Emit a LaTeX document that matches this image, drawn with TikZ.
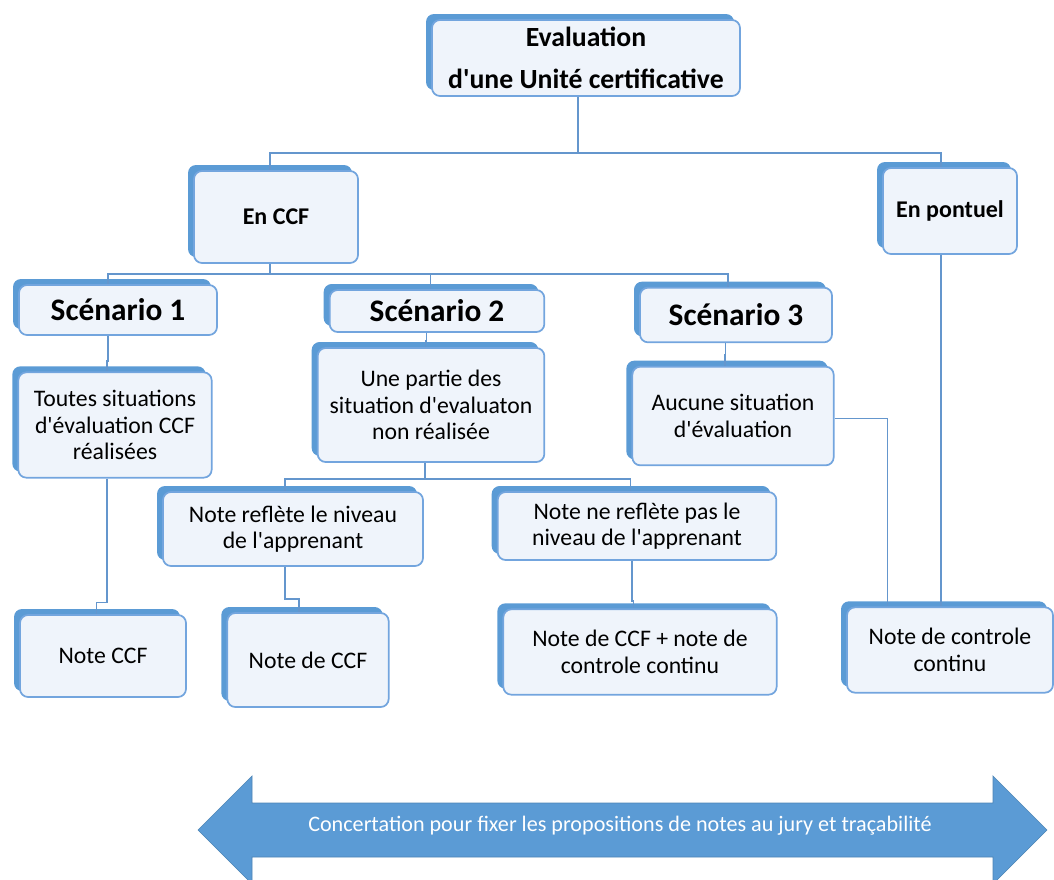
\documentclass[tikz,border=0pt]{standalone}
\usepackage{fontspec}
\setmainfont{Carlito}
\usetikzlibrary{shadows}
\definecolor{tabblue}{RGB}{91,155,213}
\definecolor{cardfill}{RGB}{239,244,251}
\definecolor{cardline}{RGB}{115,165,222}
\definecolor{wireblue}{RGB}{100,150,205}

\begin{document}
\begin{tikzpicture}[x=0.75pt, y=-0.75pt]
	\tikzstyle{card}=[draw=cardline, line width=1.3pt, fill=cardfill, rounded corners=6pt, align=center, inner sep=2pt, general shadow={fill=tabblue, shadow xshift=-4.5pt, shadow yshift=4.5pt}, font=\fontsize{17.8}{20}\selectfont]
	\tikzstyle{head}=[card, font=\fontsize{18}{21}\selectfont\bfseries]
	\tikzstyle{scen}=[card, font=\fontsize{23.5}{27}\selectfont\bfseries]
	\tikzstyle{wire}=[draw=wireblue, line width=1.1pt]

	\clip (0,0) rectangle (1054,879);

	\node[head, minimum width=231pt, minimum height=57pt, font=\fontsize{20.8}{32}\selectfont\bfseries] (root) at (586,58) {Evaluation\\d\textquotesingle une Unité certificative};
	\node[head, minimum width=123pt, minimum height=69pt] (ccf) at (276,217) {En CCF};
	\node[head, minimum width=100.5pt, minimum height=64.5pt] (pont) at (950,211) {En pontuel};

	\node[scen, minimum width=148.5pt, minimum height=37.5pt] (sc1) at (118,310) {Scénario 1};
	\node[scen, minimum width=161pt, minimum height=31.5pt] (sc2) at (437,311) {Scénario 2};
	\node[scen, minimum width=144pt, minimum height=41pt] (sc3) at (736,315) {Scénario 3};

	\node[card, minimum width=145pt, minimum height=79pt] (toutes) at (115,425) {Toutes situations\\d\textquotesingle évaluation CCF\\réalisées};
	\node[card, minimum width=170pt, minimum height=85.5pt] (partie) at (431,405) {Une partie des\\situation d\textquotesingle evaluaton\\non réalisée};
	\node[card, minimum width=151pt, minimum height=74pt] (aucune) at (733,416) {Aucune situation\\d\textquotesingle évaluation};

	\node[card, minimum width=195pt, minimum height=55.5pt] (reflete) at (293,529) {Note reflète le niveau\\de l\textquotesingle apprenant};
	\node[card, minimum width=209pt, minimum height=51pt] (nreflete) at (637,526) {Note ne reflète pas le\\niveau de l\textquotesingle apprenant};

	\node[card, minimum width=124.5pt, minimum height=61.5pt] (noteccf) at (103,656) {Note CCF};
	\node[card, minimum width=121pt, minimum height=70.5pt] (notedeccf) at (308,660) {Note de CCF};
	\node[card, minimum width=205pt, minimum height=64pt] (noteplus) at (640,652) {Note de CCF + note de\\controle continu};
	\node[card, minimum width=154.5pt, minimum height=64pt] (controle) at (950,650) {Note de controle\\continu};

	\draw[wire] ([xshift=-6pt]root.south) -- ++(0,56) coordinate (rootbus);
	\draw[wire] (rootbus) -| ([xshift=-4.5pt]ccf.north);
	\draw[wire] (rootbus) -| ([xshift=-6.75pt]pont.north);

	\draw[wire] ([xshift=-4.5pt]ccf.south) -- ++(0,10) coordinate (ccfbus);
	\draw[wire] (ccfbus) -| ([xshift=-7.5pt]sc1.north);
	\draw[wire] (ccfbus) -| ([xshift=-5pt]sc2.north);
	\draw[wire] (ccfbus) -| ([xshift=-6pt]sc3.north);

	\draw[wire] ([xshift=-7.5pt]sc1.south) -- ++(0,25) -| ([xshift=-6pt]toutes.north);
	\draw[wire] ([xshift=-8pt]sc2.south) -- ++(0,8) -| ([xshift=-4pt]partie.north);
	\draw[wire] ([xshift=-8pt]sc3.south) -- ++(0,12) -| ([xshift=-6pt]aucune.north);

	\draw[wire] ([xshift=-4.5pt]partie.south) -- ++(0,16) coordinate (partiebus);
	\draw[wire] (partiebus) -| ([xshift=-6pt]reflete.north);
	\draw[wire] (partiebus) -| ([xshift=-5pt]nreflete.north);

	\draw[wire] ([xshift=-6pt]toutes.south) -- ++(0,124) -| ([xshift=-5pt]noteccf.north);
	\draw[wire] ([xshift=-6pt]reflete.south) -- ++(0,32) -| ([xshift=-6.75pt]notedeccf.north);
	\draw[wire] ([xshift=-3.75pt]nreflete.south) -- ++(0,40) -| ([xshift=-5pt]noteplus.north);
	\draw[wire] ([yshift=-2pt]aucune.east) -| ([xshift=-47pt]controle.north);
	\draw[wire] ([xshift=-6.75pt]pont.south) -- ([xshift=-6.75pt]controle.north);

	\fill[tabblue, draw=tabblue!85!black, line width=0.5pt] (198,830) -- (252,776) -- (252,803) -- (993,803) -- (993,776) -- (1047,830) -- (993,884) -- (993,857) -- (252,857) -- (252,884) -- cycle;
	\node[text=white, font=\fontsize{16.6}{19}\selectfont] (concert) at (620,826) {Concertation pour fixer les propositions de notes au jury et traçabilité};
\end{tikzpicture}
\end{document}
